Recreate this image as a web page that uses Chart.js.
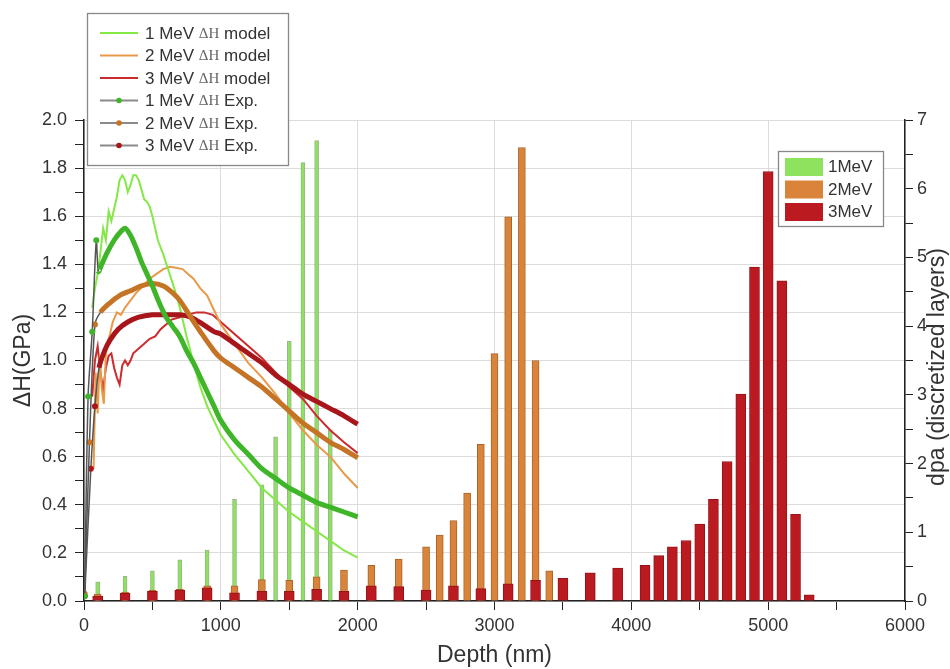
<!DOCTYPE html>
<html lang="en">
<head>
<meta charset="UTF-8">
<title>Hardness change and dpa vs depth</title>
<script src="https://cdn.jsdelivr.net/npm/chart.js"></script>
<style>
  html, body { margin: 0; padding: 0; background: #fff; }
  canvas { display: block; }
</style>
</head>
<body>
<canvas id="depthChart" width="950" height="669"></canvas>
<script>
// dpa per discretized layer (right axis)
const bar1Depth = [100, 300, 500, 700, 900, 1100, 1300, 1400, 1500, 1600, 1700, 1800];
const bar1Dpa   = [0.28, 0.36, 0.44, 0.60, 0.74, 1.48, 1.69, 2.39, 3.78, 6.38, 6.70, 2.49];

const bar2Depth = [100, 300, 500, 700, 900, 1100, 1300, 1500, 1700, 1900, 2100, 2300, 2500, 2600, 2700, 2800, 2900, 3000, 3100, 3200, 3300, 3400];
const bar2Dpa   = [0.10, 0.13, 0.16, 0.17, 0.22, 0.22, 0.31, 0.30, 0.35, 0.45, 0.52, 0.61, 0.79, 0.96, 1.17, 1.57, 2.28, 3.60, 5.59, 6.60, 3.50, 0.44];

const bar3Depth = [100, 300, 500, 700, 900, 1100, 1300, 1500, 1700, 1900, 2100, 2300, 2500, 2700, 2900, 3100, 3300, 3500, 3700, 3900,
                   4100, 4200, 4300, 4400, 4500, 4600, 4700, 4800, 4900, 5000, 5100, 5200, 5300];
const bar3Dpa   = [0.07, 0.11, 0.14, 0.16, 0.19, 0.12, 0.14, 0.14, 0.17, 0.14, 0.22, 0.21, 0.16, 0.22, 0.18, 0.25, 0.30, 0.33, 0.41, 0.48,
                   0.52, 0.66, 0.79, 0.88, 1.12, 1.48, 2.03, 3.01, 4.86, 6.25, 4.66, 1.26, 0.09];

// Delta H model curves (left axis)
const model1Depth = [60, 80, 100, 120, 140, 160, 180, 200, 220, 240, 260, 280, 300, 320, 340, 360, 380, 400, 420, 440, 460, 480, 500,
                     540, 580, 620, 660, 700, 750, 800, 850, 900, 950, 1000, 1100, 1200, 1300, 1400, 1500, 1600, 1700, 1800, 1900, 2000];
const model1Val   = [1.22, 1.30, 1.36, 1.45, 1.55, 1.50, 1.62, 1.58, 1.63, 1.68, 1.75, 1.77, 1.75, 1.70, 1.73, 1.77, 1.77, 1.75, 1.71, 1.67, 1.66, 1.64, 1.60,
                     1.50, 1.44, 1.37, 1.30, 1.22, 1.10, 0.99, 0.89, 0.81, 0.75, 0.69, 0.61, 0.54, 0.47, 0.42, 0.37, 0.33, 0.29, 0.25, 0.21, 0.18];

const model2Depth = [70, 85, 100, 115, 130, 145, 160, 175, 190, 210, 240, 270, 300, 340, 380, 430, 480, 530, 580, 630, 680, 720, 760, 800,
                     850, 900, 950, 1000, 1100, 1200, 1300, 1400, 1500, 1600, 1700, 1800, 1900, 2000];
const model2Val   = [0.55, 0.95, 0.78, 1.02, 0.88, 0.82, 1.03, 1.08, 1.11, 1.16, 1.20, 1.19, 1.22, 1.25, 1.28, 1.31, 1.34, 1.36, 1.38, 1.39, 1.385, 1.38, 1.36, 1.34,
                     1.30, 1.27, 1.21, 1.15, 1.07, 0.99, 0.93, 0.86, 0.78, 0.71, 0.65, 0.60, 0.53, 0.47];

const model3Depth = [60, 80, 100, 120, 140, 160, 180, 200, 220, 240, 260, 280, 300, 320, 340, 360, 400, 440, 480, 520, 560, 600, 640, 700,
                     760, 820, 880, 940, 1000, 1100, 1200, 1300, 1400, 1500, 1600, 1700, 1800, 1900, 2000];
const model3Val   = [0.85, 1.00, 1.06, 0.95, 0.88, 0.97, 1.02, 1.03, 0.97, 0.93, 0.90, 0.98, 1.00, 0.98, 1.00, 1.03, 1.05, 1.07, 1.09, 1.10, 1.13, 1.15, 1.17, 1.18,
                     1.19, 1.20, 1.20, 1.19, 1.16, 1.11, 1.06, 1.01, 0.95, 0.89, 0.84, 0.77, 0.71, 0.66, 0.615];

// Delta H experimental curves (left axis)
const exp1Depth = [5, 30, 60, 90, 105, 130, 170, 220, 260, 300, 340, 380, 420, 460, 500, 550, 600, 650, 700, 750, 800, 850, 900, 950,
                   1000, 1100, 1200, 1300, 1400, 1500, 1600, 1700, 1800, 1900, 2000];
const exp1Val   = [0.02, 0.85, 1.12, 1.50, 1.37, 1.40, 1.45, 1.50, 1.53, 1.55, 1.52, 1.47, 1.41, 1.36, 1.31, 1.24, 1.18, 1.14, 1.10, 1.04, 0.99, 0.93, 0.87, 0.81,
                   0.75, 0.67, 0.61, 0.55, 0.51, 0.47, 0.44, 0.41, 0.39, 0.37, 0.35];

const exp2Depth = [5, 40, 80, 120, 190, 260, 340, 420, 500, 580, 650, 700, 780, 850, 950, 1000, 1100, 1200, 1300, 1400, 1500, 1600, 1700, 1800, 1900, 2000];
const exp2Val   = [0.03, 0.66, 1.15, 1.20, 1.24, 1.27, 1.29, 1.31, 1.32, 1.31, 1.28, 1.25, 1.18, 1.12, 1.04, 1.01, 0.97, 0.93, 0.89, 0.84, 0.79, 0.74, 0.70, 0.66, 0.63, 0.595];

const exp3Depth = [5, 50, 80, 110, 150, 190, 250, 320, 400, 500, 600, 700, 780, 870, 950, 1000, 1100, 1200, 1300, 1400, 1500, 1600, 1700, 1800, 1900, 2000];
const exp3Val   = [0.02, 0.55, 0.81, 0.97, 1.04, 1.085, 1.13, 1.16, 1.18, 1.19, 1.19, 1.19, 1.18, 1.15, 1.12, 1.11, 1.07, 1.03, 0.99, 0.94, 0.90, 0.86, 0.83, 0.80, 0.77, 0.735];

const xTicks = [0, 1000, 2000, 3000, 4000, 5000, 6000];

function pairs(xs, ys) {
  return xs.map((x, i) => ({ x: x, y: ys[i] }));
}

const GRID = '#dcdcdc';
const FONT = "'Liberation Sans', Arial, sans-serif";
Chart.defaults.font.family = FONT;
Chart.defaults.color = '#333';

function barSet(label, depth, dpa, fill, edge, width, order) {
  return {
    type: 'bar', label: label, data: pairs(depth, dpa), yAxisID: 'y2',
    backgroundColor: fill, borderColor: edge, borderWidth: 1,
    barThickness: width, grouped: false, order: order
  };
}

function modelSet(label, depth, val, color) {
  return {
    type: 'line', label: label, data: pairs(depth, val), yAxisID: 'y',
    borderColor: color, borderWidth: 2, pointRadius: 0, tension: 0, order: 1
  };
}

// thick coloured curve, thin grey line with markers near the surface
function expSet(label, depth, val, color) {
  return {
    type: 'line', label: label, data: pairs(depth, val), yAxisID: 'y',
    borderColor: color, borderWidth: 5, tension: 0.3, order: 0,
    pointRadius: c => (c.raw && c.raw.x < 100 ? 3 : 0),
    pointBackgroundColor: color, pointBorderWidth: 0,
    segment: {
      borderColor: c => (c.p0.parsed.x < 100 ? '#555' : undefined),
      borderWidth: c => (c.p0.parsed.x < 100 ? 1.5 : undefined)
    },
    isExp: true
  };
}

// the two boxed legends and the right axis title
const boxLegends = {
  id: 'boxLegends',
  afterDraw(chart) {
    const ctx = chart.ctx;
    const sets = chart.data.datasets;
    ctx.save();

    // left legend: the six Delta H curves
    ctx.fillStyle = '#fff';
    ctx.fillRect(87, 13, 201, 152);
    ctx.strokeStyle = '#888';
    ctx.lineWidth = 1.3;
    ctx.strokeRect(87.5, 13.5, 201, 152);
    const lines = sets.filter(d => d.type === 'line');
    lines.forEach((d, i) => {
      const y = 33 + i * 22.5;
      ctx.beginPath();
      ctx.moveTo(100, y);
      ctx.lineTo(138, y);
      ctx.strokeStyle = d.isExp ? '#8a8a8a' : d.borderColor;
      ctx.lineWidth = 2;
      ctx.stroke();
      if (d.isExp) {
        ctx.beginPath();
        ctx.arc(119, y, 2.8, 0, Math.PI * 2);
        ctx.fillStyle = d.borderColor;
        ctx.fill();
      }
      const parts = d.label.split('ΔH');
      let x = 145;
      ctx.textBaseline = 'middle';
      ctx.fillStyle = '#333';
      ctx.font = '17px ' + FONT;
      ctx.fillText(parts[0], x, y + 1);
      x += ctx.measureText(parts[0]).width;
      ctx.font = "15px 'Liberation Serif', 'DejaVu Serif', serif";
      ctx.fillStyle = '#666';
      ctx.fillText('ΔH', x, y + 1);
      x += ctx.measureText('ΔH').width;
      ctx.font = '17px ' + FONT;
      ctx.fillStyle = '#333';
      ctx.fillText(parts[1], x, y + 1);
    });

    // right legend: dpa bars
    ctx.fillStyle = '#fff';
    ctx.fillRect(778, 151, 105, 75);
    ctx.strokeStyle = '#888';
    ctx.lineWidth = 1.3;
    ctx.strokeRect(778.5, 151.5, 105, 75);
    const bars = sets.filter(d => d.type === 'bar');
    bars.forEach((d, i) => {
      const y = 158 + i * 22.5;
      ctx.fillStyle = d.backgroundColor;
      ctx.fillRect(785, y, 38, 18);
      ctx.fillStyle = '#333';
      ctx.font = '17px ' + FONT;
      ctx.textBaseline = 'middle';
      ctx.fillText(d.label, 828, y + 9.5);
    });

    // right axis title, reading bottom to top
    ctx.translate(938, 367);
    ctx.rotate(-Math.PI / 2);
    ctx.textAlign = 'center';
    ctx.textBaseline = 'middle';
    ctx.fillStyle = '#333';
    ctx.font = '23px ' + FONT;
    ctx.fillText('dpa (discretized layers)', 0, 0);
    ctx.restore();
  }
};

const ctx = document.getElementById('depthChart').getContext('2d');
new Chart(ctx, {
  type: 'bar',
  data: {
    datasets: [
      modelSet('1 MeV ΔH model', model1Depth, model1Val, '#84e845'),
      modelSet('2 MeV ΔH model', model2Depth, model2Val, '#e89a48'),
      modelSet('3 MeV ΔH model', model3Depth, model3Val, '#cc2b2e'),
      expSet('1 MeV ΔH Exp.', exp1Depth, exp1Val, '#3fb52a'),
      expSet('2 MeV ΔH Exp.', exp2Depth, exp2Val, '#c47424'),
      expSet('3 MeV ΔH Exp.', exp3Depth, exp3Val, '#a8161c'),
      barSet('1MeV', bar1Depth, bar1Dpa, '#8de35e', 'rgba(110,150,90,0.7)', 4, 4),
      barSet('2MeV', bar2Depth, bar2Dpa, '#d9843a', '#a9662a', 7, 3),
      barSet('3MeV', bar3Depth, bar3Dpa, '#bb1a20', '#941418', 10, 2)
    ]
  },
  options: {
    responsive: false,
    animation: false,
    layout: { padding: { top: 120, left: 0, right: 0, bottom: 0 } },
    plugins: { legend: { display: false }, tooltip: { enabled: false } },
    scales: {
      x: {
        type: 'linear', min: 0, max: 6000, offset: false,
        afterFit: s => { s.height = 68; },
        grid: {
          offset: false,
          color: c => (c.tick && c.tick.value % 1000 === 0 ? GRID : 'transparent'),
          tickColor: '#222', tickLength: 9
        },
        border: { color: '#222', width: 1.5 },
        ticks: {
          stepSize: 500, autoSkip: false, maxRotation: 0, padding: 5,
          font: { size: 18 },
          callback: v => (xTicks.includes(v) ? String(v) : '')
        },
        title: { display: true, text: 'Depth (nm)', font: { size: 23 }, padding: { top: 0, bottom: 0 } }
      },
      y: {
        type: 'linear', position: 'left', min: 0, max: 2,
        afterFit: s => { s.width = 84; },
        grid: {
          color: c => (c.tick && Math.round(c.tick.value * 10) % 2 === 0 ? GRID : 'transparent'),
          tickColor: '#222', tickLength: 9
        },
        border: { color: '#222', width: 1.5 },
        ticks: {
          stepSize: 0.1, autoSkip: false, padding: 8,
          font: { size: 18 },
          callback: v => (Math.round(v * 10) % 2 === 0 ? v.toFixed(1) : '')
        },
        title: { display: true, text: 'ΔH(GPa)', font: { size: 23 }, padding: { top: 10, bottom: 0 } }
      },
      y2: {
        type: 'linear', position: 'right', min: 0, max: 7,
        afterFit: s => { s.width = 45; },
        grid: { drawOnChartArea: false, tickColor: '#222', tickLength: 8 },
        border: { color: '#222', width: 1.5 },
        ticks: {
          stepSize: 0.5, autoSkip: false, padding: 4,
          font: { size: 18 },
          callback: v => (Number.isInteger(v) ? String(v) : '')
        }
      }
    }
  },
  plugins: [boxLegends]
});
</script>
</body>
</html>
